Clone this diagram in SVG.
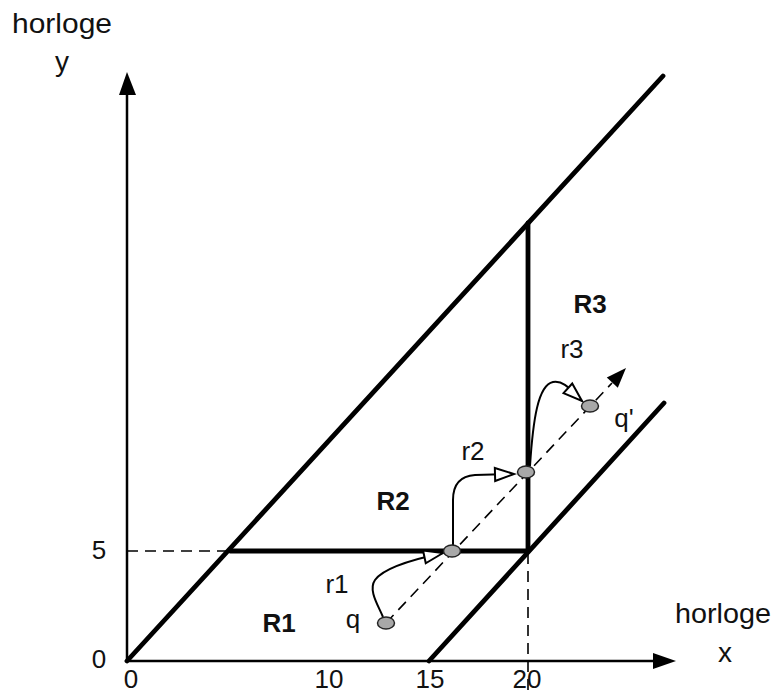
<svg xmlns="http://www.w3.org/2000/svg" width="777" height="694" viewBox="0 0 777 694">
<style>
text{font-family:"Liberation Sans",Arial,sans-serif;fill:#111}
.lbl{font-size:26px}
.big{font-size:28px}
.bold{font-size:26px;font-weight:bold}
.thick{stroke:#000;stroke-width:4.8;fill:none;stroke-linecap:round}
.axis{stroke:#000;stroke-width:2.5;fill:none}
.dash{stroke:#000;stroke-width:1.6;fill:none;stroke-dasharray:11 7}
.curve{stroke:#000;stroke-width:2;fill:none}
.pt{fill:#a8a8a8;stroke:#222;stroke-width:1.5}
</style>
<defs>
<marker id="hollow" markerUnits="userSpaceOnUse" markerWidth="24" markerHeight="18" refX="20" refY="7.5" orient="auto" overflow="visible">
<path d="M1,1 L20,7.5 L1,14 z" fill="#fff" stroke="#000" stroke-width="2"/>
</marker>
</defs>
<g id="axes">
<line class="axis" x1="127" y1="661" x2="127" y2="92"/>
<polygon points="127,72 119,95 136,95" fill="#000"/>
<line class="axis" x1="127" y1="661" x2="655" y2="661"/>
<polygon points="676,661 653,653 653,669" fill="#000"/>
</g>
<g id="regions">
<line class="thick" x1="127" y1="661" x2="663" y2="76"/>
<line class="thick" x1="230" y1="551" x2="528" y2="551"/>
<line class="thick" x1="528" y1="223" x2="528" y2="551"/>
<line class="thick" x1="429" y1="661" x2="664" y2="403"/>
</g>
<g id="guides">
<line class="dash" x1="127" y1="551" x2="230" y2="551"/>
<line class="dash" x1="528" y1="553" x2="528" y2="694"/>
</g>
<g id="connectors">
<line class="dash" x1="386" y1="623" x2="612" y2="383"/>
<polygon points="626,368 606.8,377.5 617.8,387.7" fill="#000"/>
<path class="curve" marker-end="url(#hollow)" d="M383,617 C378,605 368,590 375,580 C382,570 405,561 443,553"/>
<path class="curve" marker-end="url(#hollow)" d="M453,545 L453,500 C453,485 460,476 475,475 L514,474"/>
<path class="curve" marker-end="url(#hollow)" d="M530,466 C533,420 538,385 553,382 C565,380 572,392 582,401"/>
</g>
<g id="q"><ellipse class="pt" cx="386" cy="623" rx="8.5" ry="6"/></g>
<g id="q1"><ellipse class="pt" cx="452" cy="551" rx="8.5" ry="6"/></g>
<g id="q2"><ellipse class="pt" cx="526" cy="472" rx="8.5" ry="6"/></g>
<g id="qprime"><ellipse class="pt" cx="590" cy="406" rx="8.5" ry="6"/></g>
<g id="labels">
<text class="big" x="12" y="33" textLength="100" lengthAdjust="spacingAndGlyphs">horloge</text>
<text class="big" x="62" y="71" text-anchor="middle">y</text>
<text class="big" x="675" y="623" textLength="96" lengthAdjust="spacingAndGlyphs">horloge</text>
<text class="big" x="725" y="662" text-anchor="middle">x</text>
<text class="lbl" x="99" y="668" text-anchor="middle">0</text>
<text class="lbl" x="99" y="559" text-anchor="middle">5</text>
<text class="lbl" x="131" y="688" text-anchor="middle">0</text>
<text class="lbl" x="329" y="688" text-anchor="middle">10</text>
<text class="lbl" x="430" y="688" text-anchor="middle">15</text>
<text class="lbl" x="527" y="688" text-anchor="middle">20</text>
<text class="bold" x="279" y="632" text-anchor="middle">R1</text>
<text class="bold" x="393" y="510" text-anchor="middle">R2</text>
<text class="bold" x="590" y="313" text-anchor="middle">R3</text>
<text class="lbl" x="337" y="593" text-anchor="middle">r1</text>
<text class="lbl" x="473" y="460" text-anchor="middle">r2</text>
<text class="lbl" x="572" y="358" text-anchor="middle">r3</text>
<text class="lbl" x="353" y="628" text-anchor="middle">q</text>
<text class="lbl" x="624" y="427" text-anchor="middle">q'</text>
</g>
</svg>
